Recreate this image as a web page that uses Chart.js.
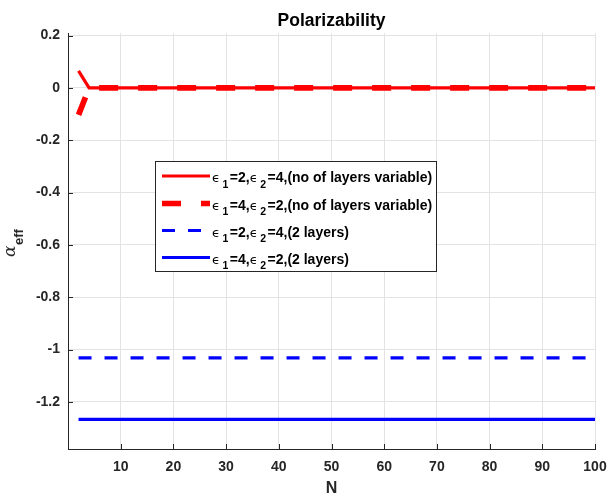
<!DOCTYPE html>
<html><head><meta charset="utf-8">
<script src="https://cdn.jsdelivr.net/npm/chart.js@4.4.0/dist/chart.umd.min.js"></script>
<style>html,body{margin:0;padding:0;background:#fff;overflow:hidden}</style>
</head><body>
<canvas id="c" width="610" height="498" style="width:610px;height:498px;display:block"></canvas>
<script>
// ---- data ----
const N = [2,4,6,8,10,12,14,16,18,20,22,24,26,28,30,32,34,36,38,40,42,44,46,48,50,
           52,54,56,58,60,62,64,66,68,70,72,74,76,78,80,82,84,86,88,90,92,94,96,98,100];
const redSolid = [0.065,0,0,0,0,0,0,0,0,0,0,0,0,0,0,0,0,0,0,0,0,0,0,0,0,
                  0,0,0,0,0,0,0,0,0,0,0,0,0,0,0,0,0,0,0,0,0,0,0,0,0];
const redDashed = [-0.103,0,0,0,0,0,0,0,0,0,0,0,0,0,0,0,0,0,0,0,0,0,0,0,0,
                   0,0,0,0,0,0,0,0,0,0,0,0,0,0,0,0,0,0,0,0,0,0,0,0,0];
const blueDashed = [-1.032,-1.032,-1.032,-1.032,-1.032,-1.032,-1.032,-1.032,-1.032,-1.032,
                    -1.032,-1.032,-1.032,-1.032,-1.032,-1.032,-1.032,-1.032,-1.032,-1.032,
                    -1.032,-1.032,-1.032,-1.032,-1.032,-1.032,-1.032,-1.032,-1.032,-1.032,
                    -1.032,-1.032,-1.032,-1.032,-1.032,-1.032,-1.032,-1.032,-1.032,-1.032,
                    -1.032,-1.032,-1.032,-1.032,-1.032,-1.032,-1.032,-1.032,-1.032,-1.032];
const blueSolid = [-1.267,-1.267,-1.267,-1.267,-1.267,-1.267,-1.267,-1.267,-1.267,-1.267,
                   -1.267,-1.267,-1.267,-1.267,-1.267,-1.267,-1.267,-1.267,-1.267,-1.267,
                   -1.267,-1.267,-1.267,-1.267,-1.267,-1.267,-1.267,-1.267,-1.267,-1.267,
                   -1.267,-1.267,-1.267,-1.267,-1.267,-1.267,-1.267,-1.267,-1.267,-1.267,
                   -1.267,-1.267,-1.267,-1.267,-1.267,-1.267,-1.267,-1.267,-1.267,-1.267];
const xTicks = [10,20,30,40,50,60,70,80,90,100];
const yTicks = [-1.2,-1,-0.8,-0.6,-0.4,-0.2,0,0.2];
const legendLabels = [
  "ϵ_1=2,ϵ_2=4,(no of layers variable)",
  "ϵ_1=4,ϵ_2=2,(no of layers variable)",
  "ϵ_1=2,ϵ_2=4,(2 layers)",
  "ϵ_1=4,ϵ_2=2,(2 layers)"
];
const titleText = "Polarizability";
const xTitle = "N";
const yTitle = "α_{eff}";

// ---- helpers ----
const FONT = "'Liberation Sans', Arial, Helvetica, sans-serif";
function pts(ys){ return N.map((x,i)=>({x:x, y:ys[i]})); }

function parseRich(s){
  const out=[]; let i=0;
  while(i<s.length){
    const ch=s[i];
    if(ch==='_'){
      if(s[i+1]==='{'){ const j=s.indexOf('}',i); out.push({t:s.slice(i+2,j),sub:true}); i=j+1; }
      else { out.push({t:s[i+1],sub:true}); i+=2; }
    } else { out.push({t:ch,sub:false}); i++; }
  }
  return out;
}
function drawRich(ctx, s, x, y, o){
  const parts=parseRich(s); let cx=x;
  for(const p of parts){
    let gap=0;
    if(p.sub){ ctx.font=o.subFont; ctx.fillText(p.t,cx,y+o.subDy); gap=o.subGap; }
    else if(p.t==='ϵ' || p.t==='α'){ ctx.font=o.greekFont; ctx.fillText(p.t,cx,y); gap=o.greekGap; }
    else { ctx.font=o.mainFont; ctx.fillText(p.t,cx,y); }
    cx+=ctx.measureText(p.t).width + gap;
  }
  return cx-x;
}

const styles = [
  {color:'#ff0000', width:3.2, dash:[]},
  {color:'#ff0000', width:5.7, dash:[19,20]},
  {color:'#0000ff', width:3.2, dash:[13,13]},
  {color:'#0000ff', width:3.2, dash:[]}
];

const decor = {
  id:'decor',
  afterDraw(chart){
    const ctx=chart.ctx, a=chart.chartArea;
    const xs=chart.scales.x, ys=chart.scales.y;
    ctx.save();
    // inward tick marks
    ctx.strokeStyle='#262626'; ctx.lineWidth=1;
    ctx.beginPath();
    xTicks.forEach(v=>{ const px=Math.round(xs.getPixelForValue(v))+0.5; ctx.moveTo(px,a.bottom); ctx.lineTo(px,a.bottom-5); });
    yTicks.forEach(v=>{ const py=Math.round(ys.getPixelForValue(v))+0.5; ctx.moveTo(a.left,py); ctx.lineTo(a.left+5,py); });
    ctx.stroke();
    // title
    ctx.fillStyle='#000'; ctx.textAlign='center'; ctx.textBaseline='alphabetic';
    ctx.font="bold 17.5px "+FONT;
    ctx.fillText(titleText,(a.left+a.right)/2,26);
    // x title
    ctx.fillStyle='#262626';
    ctx.font="bold 16px "+FONT; ctx.textBaseline='middle';
    ctx.fillText(xTitle,(a.left+a.right)/2,489);
    // y title (rotated)
    ctx.save();
    ctx.translate(15,257); ctx.rotate(-Math.PI/2);
    ctx.textAlign='left'; ctx.textBaseline='alphabetic';
    drawRich(ctx,yTitle,0,0,{mainFont:"bold 16px "+FONT, greekFont:"italic 17px 'DejaVu Serif', serif",
      subFont:"bold 13px "+FONT, subDy:8, greekGap:0.5, subGap:0});
    ctx.restore();
    // legend
    const L=155, T=161, R=437, B=272;
    ctx.fillStyle='#fff'; ctx.fillRect(L,T,R-L,B-T);
    ctx.strokeStyle='#262626'; ctx.lineWidth=1; ctx.setLineDash([]);
    ctx.strokeRect(L+0.5,T+0.5,R-L-1,B-T-1);
    const rows=[176,203.5,230.5,257.5];
    legendLabels.forEach((lab,i)=>{
      const st=styles[i], y=rows[i];
      ctx.save();
      ctx.strokeStyle=st.color; ctx.lineWidth=st.width; ctx.lineCap='butt';
      ctx.setLineDash(st.dash); ctx.beginPath(); ctx.moveTo(162,y); ctx.lineTo(210,y); ctx.stroke();
      ctx.restore();
      ctx.fillStyle='#000'; ctx.textAlign='left'; ctx.textBaseline='alphabetic';
      drawRich(ctx,lab,212,y+6,{mainFont:"bold 14px "+FONT, greekFont:"13px 'DejaVu Sans', sans-serif",
        subFont:"bold 10.5px "+FONT, subDy:5.5, greekGap:2.5, subGap:1.5});
    });
    ctx.restore();
  }
};

new Chart(document.getElementById('c'), {
  type:'line',
  data:{ datasets:[
    {data:pts(redSolid), borderColor:styles[0].color, borderWidth:styles[0].width, borderDash:styles[0].dash, order:4},
    {data:pts(redDashed), borderColor:styles[1].color, borderWidth:styles[1].width, borderDash:styles[1].dash, order:3},
    {data:pts(blueDashed), borderColor:styles[2].color, borderWidth:styles[2].width, borderDash:styles[2].dash, order:2},
    {data:pts(blueSolid), borderColor:styles[3].color, borderWidth:styles[3].width, borderDash:styles[3].dash, order:1}
  ].map(d=>Object.assign(d,{pointRadius:0, tension:0, fill:false, borderCapStyle:'butt', borderJoinStyle:'miter'}))},
  options:{
    responsive:false, animation:false, devicePixelRatio:1,
    layout:{padding:{left:0,right:15,top:33,bottom:0}},
    plugins:{legend:{display:false}, title:{display:false}, tooltip:{enabled:false}},
    scales:{
      x:{type:'linear', min:0, max:100,
        afterBuildTicks:s=>{ s.ticks=xTicks.map(v=>({value:v})); },
        afterFit:s=>{ s.height=49; s.paddingLeft=0; s.paddingRight=0; },
        grid:{color:'#e3e3e3', drawTicks:false, lineWidth:1},
        border:{display:true, color:'#262626', width:1},
        ticks:{autoSkip:false, maxRotation:0, padding:10, color:'#262626', font:{family:FONT, size:14, weight:'bold'}}
      },
      y:{type:'linear', min:-1.38, max:0.21,
        afterBuildTicks:s=>{ s.ticks=yTicks.map(v=>({value:v})); },
        afterFit:s=>{ s.width=68; s.paddingTop=0; s.paddingBottom=0; },
        grid:{color:'#e3e3e3', drawTicks:false, lineWidth:1},
        border:{display:true, color:'#262626', width:1},
        ticks:{padding:8, color:'#262626', font:{family:FONT, size:14, weight:'bold'},
          callback:v=>String(Math.round(v*10)/10)}
      }
    }
  },
  plugins:[decor]
});
</script>
</body></html>
